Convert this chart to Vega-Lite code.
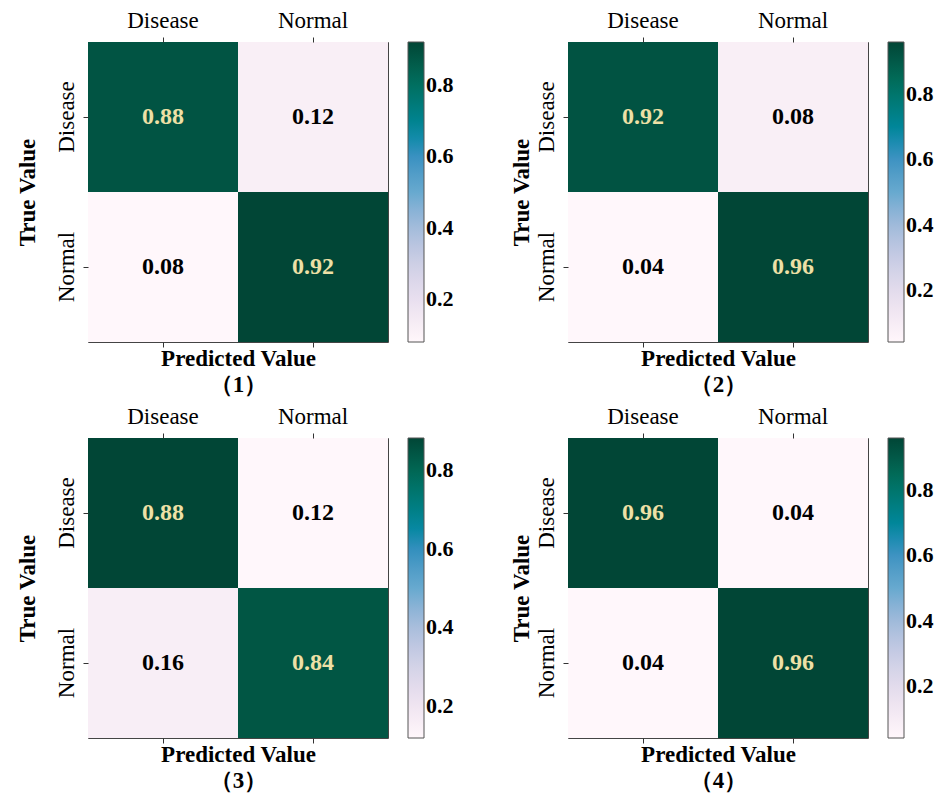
{
  "$schema": "https://vega.github.io/schema/vega-lite/v6.json",
  "background": "white",
  "padding": {"left": 15, "top": 8, "right": 5, "bottom": 0},
  "data": {"values": [
    {"panel": 1, "truth": "Disease", "pred": "Disease", "value": 0.88},
    {"panel": 1, "truth": "Disease", "pred": "Normal", "value": 0.12},
    {"panel": 1, "truth": "Normal", "pred": "Disease", "value": 0.08},
    {"panel": 1, "truth": "Normal", "pred": "Normal", "value": 0.92},
    {"panel": 2, "truth": "Disease", "pred": "Disease", "value": 0.92},
    {"panel": 2, "truth": "Disease", "pred": "Normal", "value": 0.08},
    {"panel": 2, "truth": "Normal", "pred": "Disease", "value": 0.04},
    {"panel": 2, "truth": "Normal", "pred": "Normal", "value": 0.96},
    {"panel": 3, "truth": "Disease", "pred": "Disease", "value": 0.88},
    {"panel": 3, "truth": "Disease", "pred": "Normal", "value": 0.12},
    {"panel": 3, "truth": "Normal", "pred": "Disease", "value": 0.16},
    {"panel": 3, "truth": "Normal", "pred": "Normal", "value": 0.84},
    {"panel": 4, "truth": "Disease", "pred": "Disease", "value": 0.96},
    {"panel": 4, "truth": "Disease", "pred": "Normal", "value": 0.04},
    {"panel": 4, "truth": "Normal", "pred": "Disease", "value": 0.04},
    {"panel": 4, "truth": "Normal", "pred": "Normal", "value": 0.96}
  ]},
  "columns": 2,
  "spacing": {"column": 54, "row": 7},
  "resolve": {"scale": {"color": "independent"}},
  "concat": [
    {
      "width": 300, "height": 300,
      "transform": [{"filter": "datum.panel === 1"}],
      "encoding": {
        "y": {"field": "truth", "type": "nominal", "sort": ["Disease", "Normal"], "axis": {"title": "True Value"}}
      },
      "layer": [
        {"mark": "rect",
         "encoding": {
           "x": {"field": "pred", "type": "nominal", "sort": ["Disease", "Normal"], "axis": {"orient": "top", "title": null}},
           "color": {"field": "value", "type": "quantitative",
             "scale": {"domain": [0.08, 0.185, 0.29, 0.395, 0.5, 0.605, 0.71, 0.815, 0.92], "range": ["#fff7fb", "#ece2f0", "#d0d1e6", "#a6bddb", "#67a9cf", "#3690c0", "#02818a", "#016c59", "#014636"]},
             "legend": {"values": [0.2, 0.4, 0.6, 0.8]}}
         }},
        {"mark": {"type": "text", "fontSize": 24, "fontWeight": "bold"},
         "encoding": {
           "x": {"field": "pred", "type": "nominal", "sort": ["Disease", "Normal"], "axis": {"orient": "bottom", "labels": false, "title": ["Predicted Value", "（1）"]}},
           "text": {"field": "value", "type": "quantitative", "format": ".2f"},
           "color": {"condition": {"test": "datum.value > 0.5", "value": "#eee0a6"}, "value": "black"}
         }}
      ]
    },
    {
      "width": 300, "height": 300,
      "transform": [{"filter": "datum.panel === 2"}],
      "encoding": {
        "y": {"field": "truth", "type": "nominal", "sort": ["Disease", "Normal"], "axis": {"title": "True Value", "titlePadding": 2}}
      },
      "layer": [
        {"mark": "rect",
         "encoding": {
           "x": {"field": "pred", "type": "nominal", "sort": ["Disease", "Normal"], "axis": {"orient": "top", "title": null}},
           "color": {"field": "value", "type": "quantitative",
             "scale": {"domain": [0.04, 0.155, 0.27, 0.385, 0.5, 0.615, 0.73, 0.845, 0.96], "range": ["#fff7fb", "#ece2f0", "#d0d1e6", "#a6bddb", "#67a9cf", "#3690c0", "#02818a", "#016c59", "#014636"]},
             "legend": {"values": [0.2, 0.4, 0.6, 0.8]}}
         }},
        {"mark": {"type": "text", "fontSize": 24, "fontWeight": "bold"},
         "encoding": {
           "x": {"field": "pred", "type": "nominal", "sort": ["Disease", "Normal"], "axis": {"orient": "bottom", "labels": false, "title": ["Predicted Value", "（2）"]}},
           "text": {"field": "value", "type": "quantitative", "format": ".2f"},
           "color": {"condition": {"test": "datum.value > 0.5", "value": "#eee0a6"}, "value": "black"}
         }}
      ]
    },
    {
      "width": 300, "height": 300,
      "transform": [{"filter": "datum.panel === 3"}],
      "encoding": {
        "y": {"field": "truth", "type": "nominal", "sort": ["Disease", "Normal"], "axis": {"title": "True Value"}}
      },
      "layer": [
        {"mark": "rect",
         "encoding": {
           "x": {"field": "pred", "type": "nominal", "sort": ["Disease", "Normal"], "axis": {"orient": "top", "title": null}},
           "color": {"field": "value", "type": "quantitative",
             "scale": {"domain": [0.12, 0.215, 0.31, 0.405, 0.5, 0.595, 0.69, 0.785, 0.88], "range": ["#fff7fb", "#ece2f0", "#d0d1e6", "#a6bddb", "#67a9cf", "#3690c0", "#02818a", "#016c59", "#014636"]},
             "legend": {"values": [0.2, 0.4, 0.6, 0.8]}}
         }},
        {"mark": {"type": "text", "fontSize": 24, "fontWeight": "bold"},
         "encoding": {
           "x": {"field": "pred", "type": "nominal", "sort": ["Disease", "Normal"], "axis": {"orient": "bottom", "labels": false, "title": ["Predicted Value", "（3）"]}},
           "text": {"field": "value", "type": "quantitative", "format": ".2f"},
           "color": {"condition": {"test": "datum.value > 0.5", "value": "#eee0a6"}, "value": "black"}
         }}
      ]
    },
    {
      "width": 300, "height": 300,
      "transform": [{"filter": "datum.panel === 4"}],
      "encoding": {
        "y": {"field": "truth", "type": "nominal", "sort": ["Disease", "Normal"], "axis": {"title": "True Value", "titlePadding": 2}}
      },
      "layer": [
        {"mark": "rect",
         "encoding": {
           "x": {"field": "pred", "type": "nominal", "sort": ["Disease", "Normal"], "axis": {"orient": "top", "title": null}},
           "color": {"field": "value", "type": "quantitative",
             "scale": {"domain": [0.04, 0.155, 0.27, 0.385, 0.5, 0.615, 0.73, 0.845, 0.96], "range": ["#fff7fb", "#ece2f0", "#d0d1e6", "#a6bddb", "#67a9cf", "#3690c0", "#02818a", "#016c59", "#014636"]},
             "legend": {"values": [0.2, 0.4, 0.6, 0.8]}}
         }},
        {"mark": {"type": "text", "fontSize": 24, "fontWeight": "bold"},
         "encoding": {
           "x": {"field": "pred", "type": "nominal", "sort": ["Disease", "Normal"], "axis": {"orient": "bottom", "labels": false, "title": ["Predicted Value", "（4）"]}},
           "text": {"field": "value", "type": "quantitative", "format": ".2f"},
           "color": {"condition": {"test": "datum.value > 0.5", "value": "#eee0a6"}, "value": "black"}
         }}
      ]
    }
  ],
  "config": {
    "font": "Liberation Serif",
    "view": {"stroke": "#444", "strokeWidth": 1},
    "scale": {"bandPaddingInner": 0, "bandPaddingOuter": 0},
    "axis": {
      "domain": false, "grid": false,
      "tickColor": "#333", "tickSize": 5,
      "labelFont": "Liberation Serif", "labelFontSize": 23, "labelColor": "black", "labelPadding": 5,
      "titleFont": "Liberation Serif", "titleFontSize": 23, "titleFontWeight": "bold", "titleColor": "black", "titleLineHeight": 26
    },
    "axisY": {"labelAngle": -90, "labelAlign": "center", "labelBaseline": "bottom", "titlePadding": 16},
    "axisX": {"labelAngle": 0, "titlePadding": 0},
    "legend": {
      "title": null, "gradientLength": 300, "gradientThickness": 16,
      "gradientStrokeColor": "#555", "gradientStrokeWidth": 1, "offset": 20,
      "labelFont": "Liberation Serif", "labelFontSize": 22, "labelFontWeight": "bold", "labelColor": "black",
      "labelOffset": 13, "format": ".1f", "direction": "vertical"
    }
  }
}
